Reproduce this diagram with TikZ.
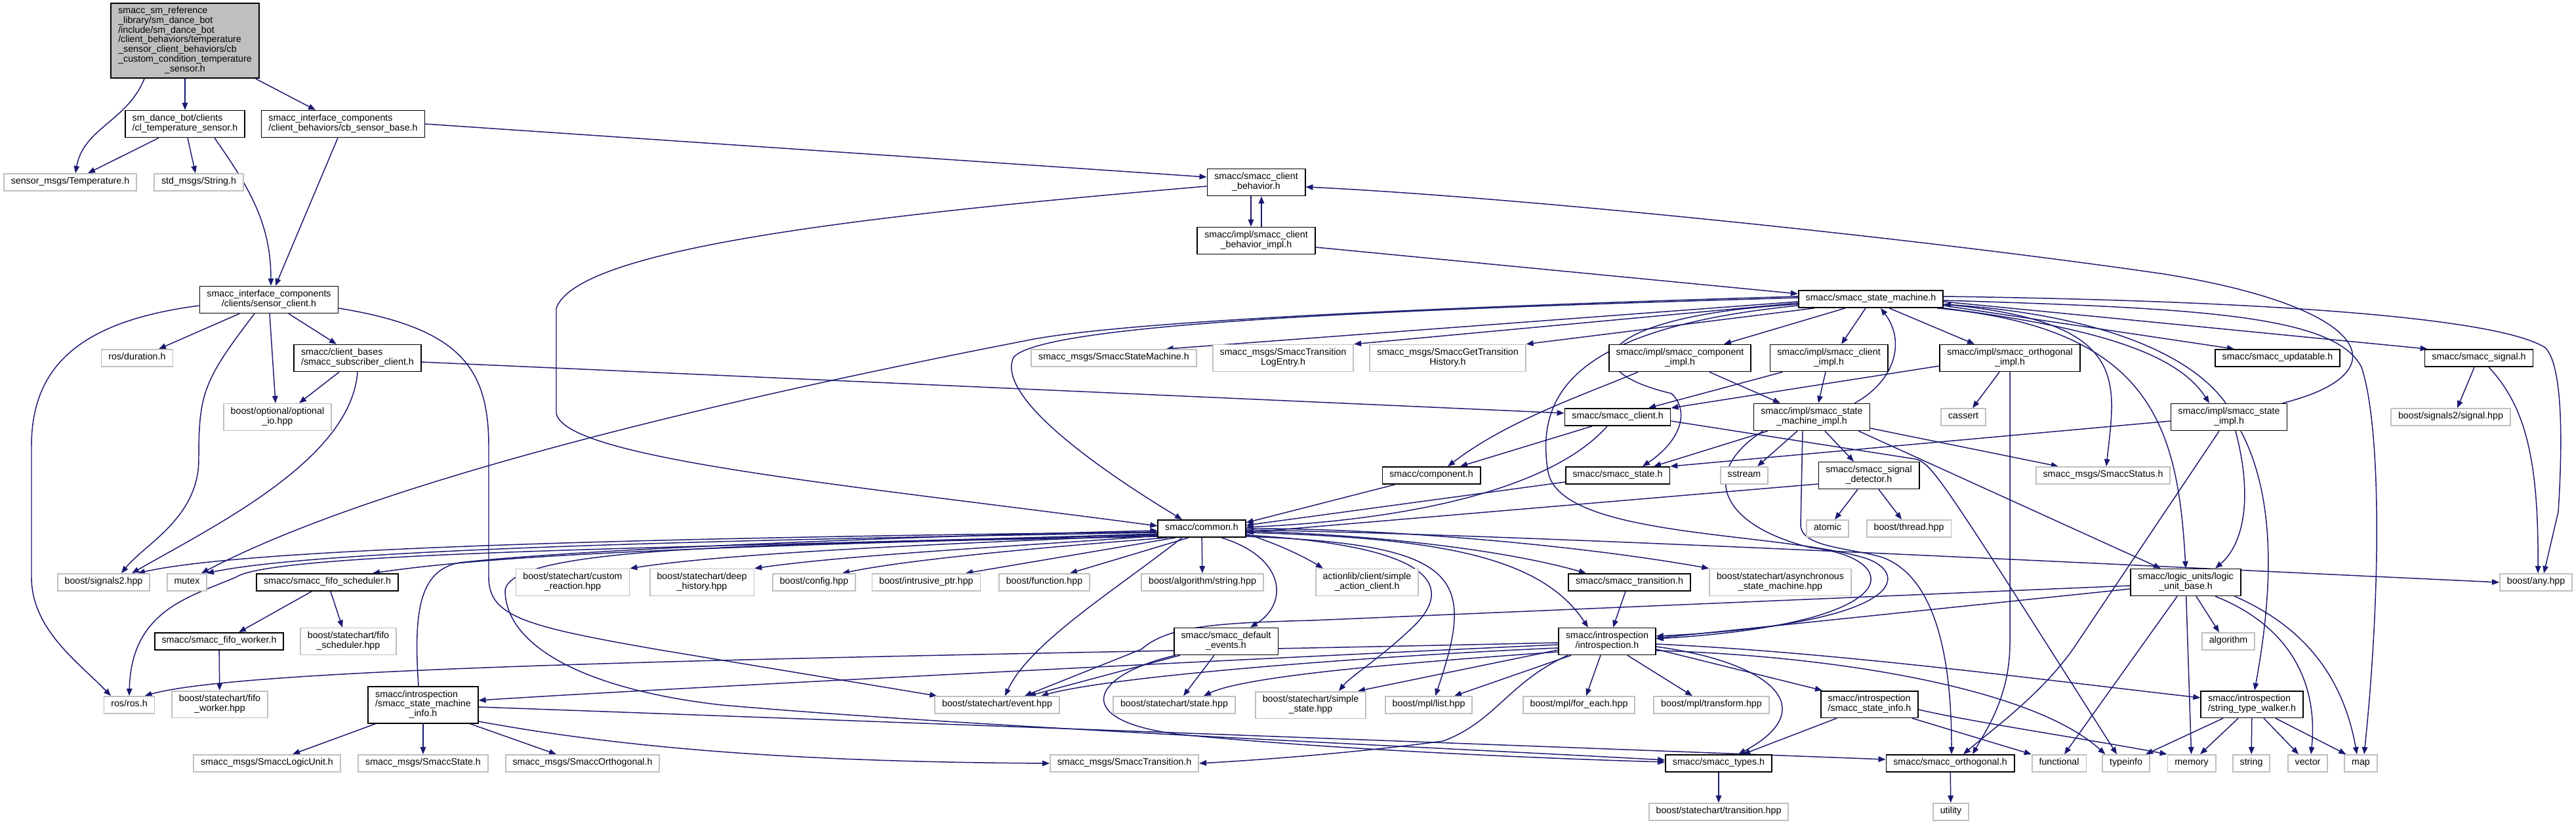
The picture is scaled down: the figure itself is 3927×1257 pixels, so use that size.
\documentclass[tikz,border=0pt]{standalone}
\usepackage{fontspec}
\setmainfont{Liberation Sans}
\usetikzlibrary{arrows.meta}
\usetikzlibrary{calc}
\usetikzlibrary{backgrounds}
\definecolor{edgeblue}{HTML}{191970}
\definecolor{extgray}{HTML}{BFBFBF}
\newcommand{\fname}[1]{\begin{tabular}{@{}l@{}}#1\end{tabular}}
\newcommand{\lastln}[1]{\multicolumn{1}{@{}c@{}}{#1}}

\begin{document}
\begin{tikzpicture}[
  x=0.01cm, y=-0.01cm,
  filebox/.style={draw, fill=white, line width=0.5pt, inner xsep=3.1pt, inner ysep=1.6pt,
    font=\fontsize{4.05}{4.2}\selectfont},
  doc/.style={filebox, draw=black},
  ext/.style={filebox, draw=extgray},
  root/.style={filebox, draw=black, fill=extgray},
  dep/.style={edgeblue, line width=0.42pt, -{Triangle[length=0.11cm, width=0.085cm]}}
]
  \useasboundingbox (0,0) rectangle (3927,1257);

  % files, row by row
  \node[root] (main) at (282,62) {\fname{smacc\_sm\_reference\\\_library/sm\_dance\_bot\\/include/sm\_dance\_bot\\/client\_behaviors/temperature\\\_sensor\_client\_behaviors/cb\\\_custom\_condition\_temperature\\\lastln{\_sensor.h}}};

  \node[doc] (cltemp) at (282,189) {\fname{sm\_dance\_bot/clients\\/cl\_temperature\_sensor.h}};
  \node[doc] (cbsensorbase) at (523,189) {\fname{smacc\_interface\_components\\/client\_behaviors/cb\_sensor\_base.h}};
  \node[ext] (temperature) at (107,278) {\fname{sensor\_msgs/Temperature.h}};
  \node[ext] (stringh) at (303,278) {\fname{std\_msgs/String.h}};
  \node[doc] (clientbehavior) at (1915,278) {\fname{smacc/smacc\_client\\\lastln{\_behavior.h}}};
  \node[doc] (cbimpl) at (1915,367) {\fname{smacc/impl/smacc\_client\\\lastln{\_behavior\_impl.h}}};

  \node[doc] (statemachine) at (2852,456) {\fname{smacc/smacc\_state\_machine.h}};
  \node[doc] (sensorclient) at (410,457) {\fname{smacc\_interface\_components\\\lastln{/clients/sensor\_client.h}}};

  \node[ext] (rosduration) at (209,546) {\fname{ros/duration.h}};
  \node[doc] (subscriberclient) at (545,546) {\fname{smacc/client\_bases\\/smacc\_subscriber\_client.h}};
  \node[ext] (smsgmachine) at (1698,546) {\fname{smacc\_msgs/SmaccStateMachine.h}};
  \node[ext] (smsglog) at (1956,546) {\fname{smacc\_msgs/SmaccTransition\\\lastln{LogEntry.h}}};
  \node[ext] (smsghist) at (2207,546) {\fname{smacc\_msgs/SmaccGetTransition\\\lastln{History.h}}};
  \node[doc] (componentimpl) at (2561,546) {\fname{smacc/impl/smacc\_component\\\lastln{\_impl.h}}};
  \node[doc] (clientimpl) at (2788,546) {\fname{smacc/impl/smacc\_client\\\lastln{\_impl.h}}};
  \node[doc] (orthogonalimpl) at (3064,546) {\fname{smacc/impl/smacc\_orthogonal\\\lastln{\_impl.h}}};
  \node[doc] (updatable) at (3472,546) {\fname{smacc/smacc\_updatable.h}};
  \node[doc] (signal) at (3779,546) {\fname{smacc/smacc\_signal.h}};

  \node[ext] (optionalio) at (423,636) {\fname{boost/optional/optional\\\lastln{\_io.hpp}}};
  \node[doc] (smaccclient) at (2466,636) {\fname{smacc/smacc\_client.h}};
  \node[doc] (smimpl) at (2762,636) {\fname{smacc/impl/smacc\_state\\\lastln{\_machine\_impl.h}}};
  \node[ext] (cassert) at (2993,636) {\fname{cassert}};
  \node[doc] (stateimpl) at (3398,636) {\fname{smacc/impl/smacc\_state\\\lastln{\_impl.h}}};
  \node[ext] (signalhpp) at (3736,636) {\fname{boost/signals2/signal.hpp}};

  \node[doc] (component) at (2182,725) {\fname{smacc/component.h}};
  \node[doc] (smaccstate) at (2466,725) {\fname{smacc/smacc\_state.h}};
  \node[ext] (sstream) at (2659,725) {\fname{sstream}};
  \node[doc] (signaldetector) at (2849,725) {\fname{smacc/smacc\_signal\\\lastln{\_detector.h}}};
  \node[ext] (smsgstatus) at (3206,725) {\fname{smacc\_msgs/SmaccStatus.h}};

  \node[doc] (common) at (1832,806) {\fname{smacc/common.h}};
  \node[ext] (atomic) at (2786,806) {\fname{atomic}};
  \node[ext] (thread) at (2910,806) {\fname{boost/thread.hpp}};

  \node[ext] (signals2) at (158,888) {\fname{boost/signals2.hpp}};
  \node[ext] (mutex) at (285,888) {\fname{mutex}};
  \node[doc] (fifoscheduler) at (499,888) {\fname{smacc/smacc\_fifo\_scheduler.h}};
  \node[ext] (customreaction) at (873,888) {\fname{boost/statechart/custom\\\lastln{\_reaction.hpp}}};
  \node[ext] (deephistory) at (1070,888) {\fname{boost/statechart/deep\\\lastln{\_history.hpp}}};
  \node[ext] (config) at (1241,888) {\fname{boost/config.hpp}};
  \node[ext] (intrusive) at (1412,888) {\fname{boost/intrusive\_ptr.hpp}};
  \node[ext] (function) at (1592,888) {\fname{boost/function.hpp}};
  \node[ext] (algostring) at (1833,888) {\fname{boost/algorithm/string.hpp}};
  \node[ext] (actionlib) at (2084,888) {\fname{actionlib/client/simple\\\lastln{\_action\_client.h}}};
  \node[doc] (transitionh) at (2484,888) {\fname{smacc/smacc\_transition.h}};
  \node[ext] (asyncsm) at (2714,888) {\fname{boost/statechart/asynchronous\\\lastln{\_state\_machine.hpp}}};
  \node[doc] (logicunitbase) at (3332,888) {\fname{smacc/logic\_units/logic\\\lastln{\_unit\_base.h}}};
  \node[ext] (anyhpp) at (3866,888) {\fname{boost/any.hpp}};

  \node[doc] (fifoworker) at (334,978) {\fname{smacc/smacc\_fifo\_worker.h}};
  \node[ext] (fifoschedhpp) at (531,978) {\fname{boost/statechart/fifo\\\lastln{\_scheduler.hpp}}};
  \node[doc] (defaultevents) at (1869,978) {\fname{smacc/smacc\_default\\\lastln{\_events.h}}};
  \node[doc] (introspection) at (2450,978) {\fname{smacc/introspection\\\lastln{/introspection.h}}};
  \node[ext] (algorithm) at (3397,978) {\fname{algorithm}};

  \node[ext] (rosh) at (197,1075) {\fname{ros/ros.h}};
  \node[ext] (fifoworkerhpp) at (335,1074) {\fname{boost/statechart/fifo\\\lastln{\_worker.hpp}}};
  \node[doc] (smachineinfo) at (645,1075) {\fname{smacc/introspection\\/smacc\_state\_machine\\\lastln{\_info.h}}};
  \node[ext] (eventhpp) at (1520,1075) {\fname{boost/statechart/event.hpp}};
  \node[ext] (statehpp) at (1790,1075) {\fname{boost/statechart/state.hpp}};
  \node[ext] (simplestate) at (1998,1075) {\fname{boost/statechart/simple\\\lastln{\_state.hpp}}};
  \node[ext] (mpllist) at (2178,1075) {\fname{boost/mpl/list.hpp}};
  \node[ext] (foreach) at (2407,1075) {\fname{boost/mpl/for\_each.hpp}};
  \node[ext] (transform) at (2609,1075) {\fname{boost/mpl/transform.hpp}};
  \node[doc] (stateinfo) at (2850,1074) {\fname{smacc/introspection\\/smacc\_state\_info.h}};
  \node[doc] (stringwalker) at (3433,1074) {\fname{smacc/introspection\\/string\_type\_walker.h}};

  \node[ext] (smsglogic) at (407,1164) {\fname{smacc\_msgs/SmaccLogicUnit.h}};
  \node[ext] (smsgstate) at (645,1164) {\fname{smacc\_msgs/SmaccState.h}};
  \node[ext] (smsgortho) at (888,1164) {\fname{smacc\_msgs/SmaccOrthogonal.h}};
  \node[ext] (smsgtrans) at (1714,1164) {\fname{smacc\_msgs/SmaccTransition.h}};
  \node[doc] (types) at (2620,1164) {\fname{smacc/smacc\_types.h}};
  \node[doc] (orthogonal) at (2973,1164) {\fname{smacc/smacc\_orthogonal.h}};
  \node[ext] (functional) at (3139,1164) {\fname{functional}};
  \node[ext] (typeinfo) at (3241,1164) {\fname{typeinfo}};
  \node[ext] (memory) at (3341,1164) {\fname{memory}};
  \node[ext] (string) at (3432,1164) {\fname{string}};
  \node[ext] (vector) at (3518,1164) {\fname{vector}};
  \node[ext] (map) at (3599,1164) {\fname{map}};

  \node[ext] (transhpp) at (2620,1238) {\fname{boost/statechart/transition.hpp}};
  \node[ext] (utility) at (2974,1238) {\fname{utility}};

  \begin{scope}[on background layer]
  % top
  \draw[dep] ($(main.south)+(-62,0)$) to[out=-112,in=80] ($(temperature.north)+(8,0)$);
  \draw[dep] (main) -- (cltemp);
  \draw[dep] ($(main.south)+(108,0)$) -- ($(cbsensorbase.north)+(-42,0)$);
  \draw[dep] ($(cltemp.south)+(-40,0)$) -- ($(temperature.north)+(27,0)$);
  \draw[dep] ($(cltemp.south)+(4,0)$) -- ($(stringh.north)+(-5,0)$);
  \draw[dep] ($(cltemp.south)+(45,0)$) to[out=-55,in=90] ($(sensorclient.north)+(3,0)$);
  \draw[dep] ($(cbsensorbase.south)+(-8,0)$) -- ($(sensorclient.north)+(10,0)$);
  \draw[dep] (cbsensorbase.east) -- ($(clientbehavior.west)+(0,-8)$);
  \draw[dep] ($(clientbehavior.west)+(0,6)$) .. controls (1300,330) and (880,380) .. (848,470)
    -- (848,630) .. controls (860,700) and (1300,740) .. ($(common.west)+(0,-4)$);
  \draw[dep] ($(clientbehavior.south)+(-8,0)$) -- ($(cbimpl.north)+(-8,0)$);
  \draw[dep] ($(cbimpl.north)+(8,0)$) -- ($(clientbehavior.south)+(8,0)$);
  \draw[dep] ($(cbimpl.east)+(0,10)$) -- ($(statemachine.west)+(0,-8)$);
  \draw[dep] ($(stateimpl.north east)+(-8,0)$) .. controls (3660,570) and (3620,470) .. (3300,418)
    .. controls (2900,360) and (2300,300) .. ($(clientbehavior.east)+(0,7)$);

  % sensor client
  \draw[dep] ($(sensorclient.south)+(-45,0)$) -- ($(rosduration.north)+(33,0)$);
  \draw[dep] ($(sensorclient.south)+(-22,0)$) .. controls (310,580) and (303,600) .. (303,700)
    .. controls (303,790) and (220,830) .. ($(signals2.north)+(27,0)$);
  \draw[dep] ($(sensorclient.south)+(1,0)$) -- ($(optionalio.north)+(-3,0)$);
  \draw[dep] ($(sensorclient.south)+(30,0)$) -- ($(subscriberclient.north)+(-32,0)$);
  \draw[dep] ($(sensorclient.west)+(0,9)$) .. controls (120,490) and (48,560) .. (48,680)
    -- (48,880) .. controls (48,960) and (120,1010) .. ($(rosh.north)+(-28,0)$);
  \draw[dep] ($(sensorclient.east)+(0,13)$) .. controls (700,500) and (745,560) .. (745,680)
    -- (745,880) .. controls (745,940) and (800,955) .. (1000,990) -- ($(eventhpp.north west)+(4,0)$);
  \draw[dep] ($(subscriberclient.south)+(-28,0)$) -- ($(optionalio.north)+(33,0)$);
  \draw[dep] (subscriberclient.south) .. controls (535,700) and (330,800) .. ($(signals2.north)+(43,0)$);
  \draw[dep] ($(subscriberclient.east)+(0,6)$) -- ($(smaccclient.west)+(0,-6)$);

  % state machine
  \draw[dep] ($(statemachine.west)+(0,4)$) -- ($(smsgmachine.north east)+(-47,0)$);
  \draw[dep] ($(statemachine.west)+(0,6)$) -- (smsglog.north east);
  \draw[dep] ($(statemachine.south west)+(25,0)$) -- (smsghist.north east);
  \draw[dep] ($(statemachine.south)+(-39,0)$) -- ($(componentimpl.north)+(67,0)$);
  \draw[dep] ($(statemachine.south)+(-8,0)$) -- ($(clientimpl.north)+(19,0)$);
  \draw[dep] ($(statemachine.south)+(28,0)$) -- ($(orthogonalimpl.north)+(-54,0)$);
  \draw[dep] ($(statemachine.east)+(0,10)$) -- ($(updatable.north west)+(30,0)$);
  \draw[dep] ($(statemachine.east)+(0,4)$) -- ($(signal.north west)+(5,0)$);
  \draw[dep] (statemachine.south east) .. controls (3200,500) and (3320,540) .. ($(stateimpl.north)+(-30,0)$);
  \draw[dep] ($(statemachine.east)+(0,8)$) .. controls (3250,490) and (3225,580) .. ($(smsgstatus.north)+(5,0)$);
  \draw[dep] ($(statemachine.south east)+(-10,0)$) .. controls (3280,500) and (3320,650) .. (logicunitbase.north);
  \draw[dep] ($(statemachine.west)+(0,8)$) .. controls (2450,480) and (2380,560) .. (2548,600)
    .. controls (2575,625) and (2565,670) .. ($(smaccstate.north)+(38,0)$);
  \draw[dep] ($(statemachine.west)+(0,10)$) .. controls (2400,500) and (2340,600) .. (2360,720)
    .. controls (2380,820) and (2700,810) .. (2840,850)
    .. controls (2910,870) and (2920,950) .. ($(introspection.east)+(0,-8)$);
  \draw[dep] ($(statemachine.west)+(0,-2)$) .. controls (2200,470) and (1590,490) .. (1545,545)
    .. controls (1520,600) and (1650,700) .. ($(common.north)+(-30,0)$);
  \draw[dep] ($(statemachine.west)+(0,-4)$) .. controls (2200,468) and (1700,490) .. (1561,520)
    .. controls (1200,590) and (600,720) .. ($(mutex.north)+(22,0)$);
  \draw[dep] ($(statemachine.east)+(0,-4)$) .. controls (3400,458) and (3800,480) .. (3880,530)
    .. controls (3910,560) and (3905,700) .. (3900,780) -- ($(anyhpp.north)+(12,0)$);
  \draw[dep] ($(statemachine.east)+(0,2)$) .. controls (3350,470) and (3560,480) .. (3600,560)
    .. controls (3630,650) and (3630,900) .. ($(map.north)+(5,0)$);
  \draw[dep] ($(smimpl.north east)+(-24,0)$) .. controls (2890,580) and (2905,520) .. ($(statemachine.south)+(15,0)$);
  \draw[dep] ($(stateimpl.north)+(-5,0)$) .. controls (3340,540) and (3200,480) .. ($(statemachine.east)+(0,8)$);

  % impl files
  \draw[dep] ($(componentimpl.south)+(45,0)$) -- ($(smimpl.north)+(-48,0)$);
  \draw[dep] ($(clientimpl.south)+(-5,0)$) -- ($(smimpl.north)+(10,0)$);
  \draw[dep] ($(componentimpl.south)+(-64,0)$) .. controls (2420,600) and (2300,640) .. ($(component.north)+(25,0)$);
  \draw[dep] ($(clientimpl.south west)+(20,0)$) -- ($(smaccclient.north)+(47,0)$);
  \draw[dep] ($(orthogonalimpl.west)+(0,12)$) -- (smaccclient.north east);
  \draw[dep] ($(orthogonalimpl.south)+(-16,0)$) -- ($(cassert.north)+(14,0)$);
  \draw[dep] (orthogonalimpl.south) -- (3064,980) .. controls (3064,1060) and (3030,1110) .. ($(orthogonal.north)+(34,0)$);
  \draw[dep] ($(smaccclient.south)+(-39,0)$) -- ($(component.north)+(44,0)$);
  \draw[dep] ($(smaccclient.south)+(-16,0)$) .. controls (2380,730) and (2200,790) .. ($(common.east)+(0,-2)$);
  \draw[dep] ($(smaccclient.east)+(0,6)$) -- (2920,700) .. controls (2945,706) and (2960,730) .. ($(typeinfo.north)+(-14,0)$);
  \draw[dep] ($(smimpl.south west)+(22,0)$) -- ($(smaccstate.north)+(55,0)$);
  \draw[dep] ($(smimpl.south)+(-22,0)$) -- ($(sstream.north)+(20,0)$);
  \draw[dep] ($(smimpl.south)+(20,0)$) -- ($(signaldetector.north)+(-23,0)$);
  \draw[dep] ($(smimpl.east)+(0,17)$) -- ($(smsgstatus.north west)+(35,0)$);
  \draw[dep] ($(smimpl.south east)+(-18,0)$) -- ($(logicunitbase.north)+(-38,0)$);
  \draw[dep] ($(smimpl.south west)+(15,0)$) .. controls (2590,720) and (2620,800) .. (2760,835)
    .. controls (2900,850) and (2920,950) .. ($(introspection.east)+(0,-4)$);
  \draw[dep] ($(smimpl.south)+(-14,0)$) -- (2745,800) .. controls (2745,835) and (2820,835) .. (2870,850)
    .. controls (2950,880) and (2975,1000) .. ($(orthogonal.north)+(2,0)$);
  \draw[dep] ($(signaldetector.south)+(-17,0)$) -- ($(atomic.north)+(11,0)$);
  \draw[dep] ($(signaldetector.south)+(15,0)$) -- ($(thread.north)+(-11,0)$);
  \draw[dep] ($(signaldetector.west)+(0,13)$) -- ($(common.east)+(0,6)$);
  \draw[dep] ($(component.south west)+(20,0)$) -- ($(common.east)+(0,-9)$);
  \draw[dep] ($(smaccstate.west)+(0,10)$) -- ($(common.east)+(0,-5)$);
  \draw[dep] ($(stateimpl.west)+(0,6)$) -- (smaccstate.north east);
  \draw[dep] ($(stateimpl.south)+(-15,0)$) -- (3160,990) .. controls (3110,1060) and (3040,1110) .. ($(orthogonal.north)+(20,0)$);
  \draw[dep] ($(stateimpl.south)+(10,0)$) .. controls (3435,760) and (3420,830) .. ($(logicunitbase.north)+(45,0)$);
  \draw[dep] ($(stateimpl.south)+(18,0)$) .. controls (3470,760) and (3465,900) .. ($(stringwalker.north)+(4,0)$);
  \draw[dep] ($(signal.south)+(-7,0)$) -- ($(signalhpp.north)+(10,0)$);
  \draw[dep] ($(signal.south)+(15,0)$) .. controls (3850,620) and (3870,700) .. ($(anyhpp.north)+(3,0)$);

  % common
  \draw[dep] ($(common.west)+(0,5)$) .. controls (1200,818) and (400,830) .. ($(signals2.north)+(52,0)$);
  \draw[dep] ($(common.west)+(0,6)$) .. controls (1200,822) and (500,835) .. ($(mutex.north)+(30,0)$);
  \draw[dep] ($(common.west)+(0,8)$) .. controls (1100,835) and (420,840) .. (360,880)
    .. controls (290,910) and (200,930) .. (rosh.north);
  \draw[dep] ($(common.west)+(0,9)$) .. controls (1200,832) and (800,840) .. ($(fifoscheduler.north)+(69,0)$);
  \draw[dep] ($(common.west)+(0,10)$) .. controls (1400,830) and (1100,845) .. (customreaction.north east);
  \draw[dep] ($(common.west)+(0,11)$) .. controls (1600,830) and (1300,845) .. (deephistory.north east);
  \draw[dep] ($(common.south west)+(15,0)$) .. controls (1650,830) and (1400,850) .. ($(config.north)+(43,0)$);
  \draw[dep] ($(common.south)+(-40,0)$) -- ($(intrusive.north)+(60,0)$);
  \draw[dep] ($(common.south)+(-20,0)$) -- ($(function.north)+(39,0)$);
  \draw[dep] (common) -- (algostring);
  \draw[dep] ($(common.south)+(-30,0)$) .. controls (1700,900) and (1570,980) .. ($(eventhpp.north)+(12,0)$);
  \draw[dep] ($(common.south)+(30,0)$) .. controls (1960,850) and (1965,920) .. ($(defaultevents.north)+(37,0)$);
  \draw[dep] ($(common.east)+(0,8)$) .. controls (1950,830) and (1990,850) .. ($(actionlib.north west)+(12,0)$);
  \draw[dep] ($(common.east)+(0,4)$) .. controls (2100,815) and (2300,840) .. ($(transitionh.north)+(-66,0)$);
  \draw[dep] (common.east) .. controls (2100,805) and (2400,830) .. (asyncsm.north west);
  \draw[dep] ($(common.east)+(0,6)$) .. controls (2200,820) and (2350,850) .. ($(introspection.north)+(-29,0)$);
  \draw[dep] ($(common.east)+(0,10)$) .. controls (2150,830) and (2225,880) .. (2160,950)
    .. controls (2110,1000) and (2060,1030) .. ($(simplestate.north)+(43,0)$);
  \draw[dep] ($(common.east)+(0,12)$) .. controls (2230,830) and (2250,880) .. ($(mpllist.north)+(10,0)$);
  \draw[dep] ($(common.east)+(0,2)$) .. controls (2300,815) and (3000,850) .. (anyhpp.west);
  \draw[dep] ($(common.west)+(0,12)$) .. controls (1200,830) and (780,830) .. (770,900)
    .. controls (770,980) and (880,1050) .. (1100,1075)
    .. controls (1500,1110) and (2200,1140) .. ($(types.west)+(0,-5)$);

  % fifo scheduler
  \draw[dep] ($(fifoscheduler.south)+(-24,0)$) -- ($(fifoworker.north)+(30,0)$);
  \draw[dep] ($(fifoscheduler.south)+(5,0)$) -- ($(fifoschedhpp.north)+(-9,0)$);
  \draw[dep] (fifoworker) -- (fifoworkerhpp);

  % state machine info
  \draw[dep] ($(smachineinfo.north)+(-7,0)$) .. controls (630,930) and (640,870) .. (700,858)
    .. controls (900,835) and (1500,815) .. ($(common.west)+(0,3)$);
  \draw[dep] ($(smachineinfo.south west)+(12,0)$) -- ($(smsglogic.north)+(39,0)$);
  \draw[dep] (smachineinfo) -- (smsgstate);
  \draw[dep] ($(smachineinfo.south east)+(-13,0)$) -- ($(smsgortho.north)+(-40,0)$);
  \draw[dep] ($(smachineinfo.east)+(0,3)$) .. controls (1200,1095) and (2400,1140) .. ($(orthogonal.west)+(0,-6)$);
  \draw[dep] ($(smachineinfo.east)+(0,25)$) .. controls (1000,1150) and (1300,1162) .. (smsgtrans.west);

  % introspection
  \draw[dep] ($(introspection.west)+(0,5)$) .. controls (2000,1000) and (1000,1050) .. ($(smachineinfo.east)+(0,-7)$);
  \draw[dep] ($(introspection.west)+(0,2)$) .. controls (1500,1000) and (400,1010) .. ($(rosh.north east)+(-16,0)$);
  \draw[dep] ($(introspection.west)+(0,13)$) -- ($(simplestate.north)+(72,0)$);
  \draw[dep] ($(introspection.south)+(-55,0)$) -- ($(mpllist.north)+(39,0)$);
  \draw[dep] ($(introspection.south)+(-10,0)$) -- ($(foreach.north)+(11,0)$);
  \draw[dep] ($(introspection.south)+(31,0)$) -- ($(transform.north)+(-29,0)$);
  \draw[dep] ($(introspection.east)+(0,12)$) -- ($(stateinfo.north west)+(3,0)$);
  \draw[dep] ($(introspection.east)+(0,8)$) .. controls (2700,1010) and (2780,1080) .. ($(types.north)+(30,0)$);
  \draw[dep] ($(introspection.south)+(-60,0)$) .. controls (2300,1040) and (2280,1100) .. (2200,1130)
    .. controls (2050,1150) and (1900,1160) .. (smsgtrans.east);
  \draw[dep] ($(introspection.west)+(0,10)$) .. controls (2100,1000) and (1700,1030) .. ($(eventhpp.north)+(67,0)$);
  \draw[dep] ($(introspection.west)+(0,16)$) .. controls (2150,1010) and (1900,1030) .. ($(statehpp.north)+(45,0)$);
  \draw[dep] ($(introspection.east)+(0,14)$) .. controls (2800,1000) and (3100,1050) .. ($(typeinfo.north west)+(5,0)$);
  \draw[dep] ($(introspection.east)+(0,4)$) .. controls (2800,995) and (3100,1035) .. ($(stringwalker.west)+(0,-10)$);
  \draw[dep] ($(transitionh.south)+(-6,0)$) -- ($(introspection.north)+(9,0)$);
  \draw[dep] ($(stateinfo.south west)+(25,0)$) -- ($(types.north)+(37,0)$);
  \draw[dep] ($(stateinfo.east)+(0,8)$) .. controls (3000,1100) and (3200,1130) .. (memory.north west);
  \draw[dep] ($(stateinfo.south east)+(-10,0)$) -- (functional.north west);
  \draw[dep] (types) -- (transhpp);
  \draw[dep] (orthogonal) -- (utility);

  % default events
  \draw[dep] ($(defaultevents.south)+(-18,0)$) -- ($(statehpp.north)+(14,0)$);
  \draw[dep] ($(defaultevents.south west)+(10,0)$) -- ($(eventhpp.north)+(48,0)$);
  \draw[dep] ($(defaultevents.south west)+(3,0)$) .. controls (1660,1030) and (1630,1100) .. (1800,1120)
    .. controls (2000,1140) and (2300,1155) .. ($(types.west)+(0,-2)$);

  % logic unit base
  \draw[dep] ($(logicunitbase.west)+(0,10)$) -- ($(introspection.east)+(0,-5)$);
  \draw[dep] ($(logicunitbase.west)+(0,5)$) -- (2000,946) .. controls (1850,950) and (1780,955) .. (1740,990)
    -- ($(eventhpp.north)+(42,0)$);
  \draw[dep] ($(logicunitbase.south)+(-13,0)$) -- ($(functional.north)+(8,0)$);
  \draw[dep] (logicunitbase) -- (memory);
  \draw[dep] ($(logicunitbase.south)+(16,0)$) -- ($(algorithm.north)+(-14,0)$);
  \draw[dep] ($(logicunitbase.south)+(45,0)$) .. controls (3480,950) and (3535,1030) .. ($(vector.north)+(5,0)$);
  \draw[dep] ($(logicunitbase.south east)+(-10,0)$) .. controls (3500,950) and (3570,1020) .. ($(map.north)+(-6,0)$);

  % string type walker
  \draw[dep] ($(stringwalker.south)+(-44,0)$) -- ($(typeinfo.north)+(30,0)$);
  \draw[dep] ($(stringwalker.south)+(-21,0)$) -- ($(memory.north)+(13,0)$);
  \draw[dep] (stringwalker) -- (string);
  \draw[dep] ($(stringwalker.south)+(18,0)$) -- ($(vector.north)+(-14,0)$);
  \draw[dep] ($(stringwalker.south)+(36,0)$) -- ($(map.north west)+(3,0)$);
  \end{scope}
\end{tikzpicture}
\end{document}
